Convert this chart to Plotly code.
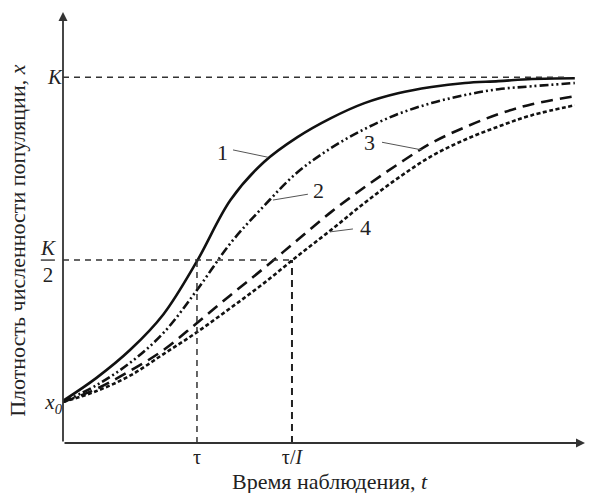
import plotly.graph_objects as go

# ---- data (t in units of tau, x in units of K) ----
K = 1.0
HALF_K = 0.5
X0 = 0.112
TAU = 1.0
TAU_I = 1.709

t_grid = [0, 0.25, 0.5, 0.75, 1.0, 1.25, 1.5, 1.75, 2.0, 2.25, 2.5, 2.75, 3.0,
          3.25, 3.5, 3.82]
x1 = [0.115, 0.178, 0.254, 0.352, 0.497, 0.664, 0.768, 0.836, 0.888, 0.929,
      0.956, 0.973, 0.984, 0.989, 0.995, 0.997]
x2 = [0.112, 0.158, 0.219, 0.301, 0.418, 0.546, 0.648, 0.740, 0.806, 0.858,
      0.899, 0.929, 0.951, 0.967, 0.975, 0.984]
x3 = [0.112, 0.148, 0.197, 0.254, 0.328, 0.404, 0.478, 0.555, 0.631, 0.699,
      0.762, 0.820, 0.863, 0.899, 0.926, 0.948]
x4 = [0.112, 0.142, 0.184, 0.243, 0.303, 0.369, 0.437, 0.511, 0.582, 0.656,
      0.724, 0.784, 0.829, 0.865, 0.896, 0.923]

curve_labels = ["1", "2", "3", "4"]
x_tick_vals = [TAU, TAU_I]
x_tick_text = ["τ", "τ/<i>I</i>"]
y_tick_vals = [X0, K]
y_tick_text = ["<i>x</i><sub><i>0</i></sub>", "<i>K</i>"]
half_k_text = "<i>K</i><br>2"

T_MAX = 3.896
X_MAX = 1.178
T_END = 3.80

FONT = "Liberation Serif, Times New Roman, serif"
INK = "#111111"
AX = "#333333"
TXT = "#222222"

fig = go.Figure()

styles = [
    dict(dash="solid", width=2.6),
    dict(dash="9px,3px,2px,3px,2px,3px", width=2.6),
    dict(dash="12px,7px", width=2.6),
    dict(dash="4px,2.5px", width=2.6),
]
for xx, st, name in zip([x1, x2, x3, x4], styles, curve_labels):
    fig.add_trace(go.Scatter(
        x=t_grid, y=xx, mode="lines", name=name,
        line=dict(color=INK, width=st["width"], dash=st["dash"], shape="spline", smoothing=1.0),
        showlegend=False, hoverinfo="skip"))

# reference dashed lines
ref = dict(color=AX, width=1.5, dash="6px,5px")
fig.add_shape(type="line", x0=0, x1=T_END * 0.99, y0=K, y1=K, line=ref)
fig.add_shape(type="line", x0=0, x1=TAU_I, y0=HALF_K, y1=HALF_K, line=ref)
fig.add_shape(type="line", x0=TAU, x1=TAU, y0=0, y1=HALF_K, line=ref)
fig.add_shape(type="line", x0=TAU_I, x1=TAU_I, y0=0, y1=HALF_K,
              line=dict(color="#222222", width=2, dash="7px,5px"))

# axes with arrows
for (xh, yh) in [(0, X_MAX), (T_MAX, 0)]:
    fig.add_annotation(x=xh, y=yh, ax=0, ay=0, xref="x", yref="y", axref="x", ayref="y",
                       showarrow=True, arrowhead=2, arrowsize=1.0, arrowwidth=1.8,
                       arrowcolor=AX, text="")

# K/2 fraction label
fig.add_annotation(xref="paper", yref="y", x=0, xshift=-15, y=HALF_K, yshift=-1,
                   xanchor="center", yanchor="middle", align="center",
                   text=half_k_text, showarrow=False,
                   font=dict(family=FONT, size=21, color=TXT))
fig.add_shape(type="line", xref="paper", yref="y", x0=-0.0425, x1=-0.0155,
              y0=HALF_K, y1=HALF_K, line=dict(color=INK, width=1.2))

# curve labels with leader lines
label_pos = [(1.187, 0.795), (1.910, 0.691), (2.291, 0.820), (2.254, 0.590)]
leaders = [((1.269, 0.801), (1.530, 0.781)),
           ((1.828, 0.680), (1.567, 0.664)),
           ((2.381, 0.822), (2.679, 0.801)),
           ((2.164, 0.585), (1.993, 0.577))]
for lab, (lx, ly), ((ax0, ay0), (ax1, ay1)) in zip(curve_labels, label_pos, leaders):
    fig.add_annotation(x=lx, y=ly, text=lab, showarrow=False,
                       font=dict(family=FONT, size=22, color=TXT))
    fig.add_shape(type="line", x0=ax0, y0=ay0, x1=ax1, y1=ay1,
                  line=dict(color="#555555", width=1))

# axis titles
fig.add_annotation(xref="paper", yref="paper", x=0.5115, y=0, yshift=-38, yanchor="middle",
                   text="Время наблюдения, <i>t</i>", showarrow=False,
                   font=dict(family=FONT, size=22, color=TXT))
fig.add_annotation(xref="paper", yref="paper", x=0, xshift=-45, y=0.469, xanchor="center",
                   yanchor="middle", textangle=-90,
                   text="Плотность численности популяции, <i>x</i>", showarrow=False,
                   font=dict(family=FONT, size=22, color=TXT))

fig.update_layout(
    width=592, height=493,
    margin=dict(l=63, r=7, t=12, b=50),
    paper_bgcolor="white", plot_bgcolor="white",
    font=dict(family=FONT, size=21, color=TXT),
    xaxis=dict(range=[0, T_MAX], showgrid=False, zeroline=False, showline=False,
               tickvals=x_tick_vals, ticktext=x_tick_text, ticks="",
               tickfont=dict(family=FONT, size=20, color=TXT)),
    yaxis=dict(range=[0, X_MAX], showgrid=False, zeroline=False, showline=False,
               tickvals=y_tick_vals, ticktext=y_tick_text, ticks="",
               tickfont=dict(family=FONT, size=21, color=TXT)),
)

fig.write_html("out.html")
